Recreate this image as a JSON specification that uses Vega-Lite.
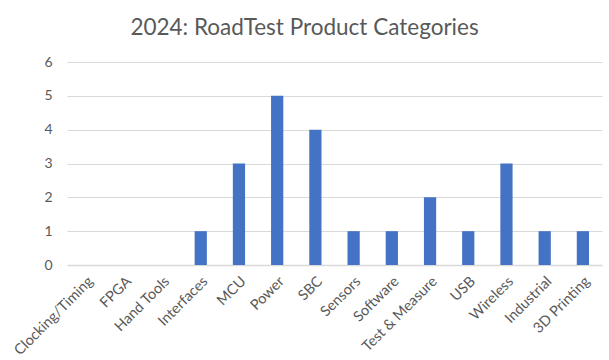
{
  "$schema": "https://vega.github.io/schema/vega-lite/v6.json",
  "autosize": "none",
  "width": 535,
  "height": 203,
  "padding": {"left": 67, "top": 62, "right": 7, "bottom": 95},
  "background": "white",
  "title": {
    "text": "2024: RoadTest Product Categories",
    "font": "Lato",
    "fontSize": 22.5,
    "fontWeight": "normal",
    "color": "#595959",
    "anchor": "middle",
    "dx": -30,
    "offset": 16
  },
  "data": {
    "values": [
      {"category": "Clocking/Timing", "count": 0},
      {"category": "FPGA", "count": 0},
      {"category": "Hand Tools", "count": 0},
      {"category": "Interfaces", "count": 1},
      {"category": "MCU", "count": 3},
      {"category": "Power", "count": 5},
      {"category": "SBC", "count": 4},
      {"category": "Sensors", "count": 1},
      {"category": "Software", "count": 1},
      {"category": "Test & Measure", "count": 2},
      {"category": "USB", "count": 1},
      {"category": "Wireless", "count": 3},
      {"category": "Industrial", "count": 1},
      {"category": "3D Printing", "count": 1}
    ]
  },
  "mark": {"type": "bar", "color": "#4472C4", "width": {"band": 0.32}},
  "encoding": {
    "x": {
      "field": "category",
      "type": "nominal",
      "sort": null,
      "scale": {"paddingInner": 0, "paddingOuter": 0},
      "axis": {
        "title": null,
        "labelAngle": -45,
        "labelFont": "Lato",
        "labelFontSize": 14.5,
        "labelColor": "#595959",
        "ticks": false,
        "labelPadding": 9,
        "labelOverlap": false,
        "domainColor": "#d9d9d9",
        "domainWidth": 1.5
      }
    },
    "y": {
      "field": "count",
      "type": "quantitative",
      "scale": {"domain": [0, 6]},
      "axis": {
        "title": null,
        "values": [0, 1, 2, 3, 4, 5, 6],
        "labelFont": "Lato",
        "labelFontSize": 14,
        "labelColor": "#595959",
        "ticks": false,
        "domain": false,
        "labelPadding": 15,
        "gridColor": "#d9d9d9",
        "gridWidth": 1
      }
    }
  },
  "config": {"view": {"stroke": null}}
}
